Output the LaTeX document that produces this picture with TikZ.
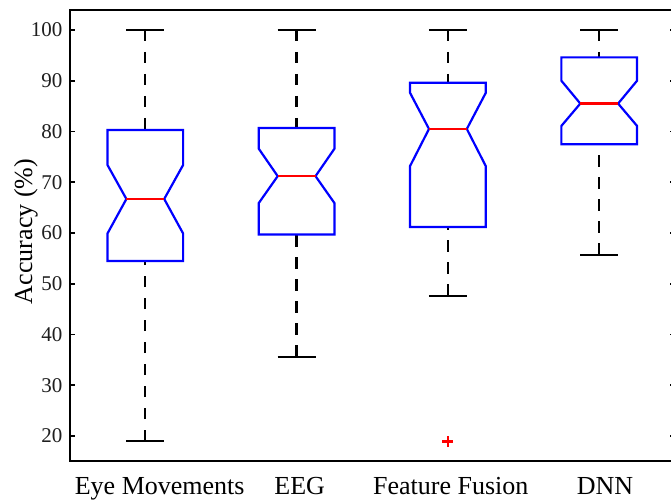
\documentclass[tikz,border=0pt]{standalone}
\usepackage{fontspec}
\setmainfont{Liberation Serif}
\definecolor{mblue}{RGB}{0,0,255}
\definecolor{mred}{RGB}{255,0,0}
\newcommand{\nbox}[8]{%
  \draw[whisk] (#1,#7) -- (#1,#2);
  \draw[whisk] (#1,#8) -- (#1,#6);
  \draw[capline] (#1-0.125,#7) -- (#1+0.125,#7);
  \draw[capline] (#1-0.125,#8) -- (#1+0.125,#8);
  \draw[boxline] (#1-0.25,#2) -- (#1-0.25,#3) -- (#1-0.125,#4) -- (#1-0.25,#5) -- (#1-0.25,#6) -- (#1+0.25,#6) -- (#1+0.25,#5) -- (#1+0.125,#4) -- (#1+0.25,#3) -- (#1+0.25,#2) -- cycle;
  \draw[medline] (#1-0.125,#4) -- (#1+0.125,#4);
}
\begin{document}
\begin{tikzpicture}[x=1bp,y=1bp,
  axisline/.style={line width=2bp, draw=black},
  tickline/.style={line width=1.6bp, draw=black},
  whisk/.style={line width=2.3bp, draw=black, dash pattern=on 11.5bp off 10.5bp},
  capline/.style={line width=2.3bp, draw=black},
  boxline/.style={line width=2.2bp, draw=mblue, line join=miter},
  medline/.style={line width=2.2bp, draw=mred},
  outl/.style={line width=2.8bp, draw=mred},
  ticklab/.style={font=\fontsize{21bp}{24bp}\selectfont, inner sep=0pt, text=black!88},
  xlab/.style={font=\fontsize{26bp}{30bp}\selectfont, inner sep=0pt, anchor=base},
]
\useasboundingbox (0,0) rectangle (671,500);
\fill[white] (0,0) rectangle (671,500);
\clip (0,0) rectangle (671,500);
\begin{scope}[shift={(-6bp,-37.5bp)}, x=151.3bp, y=5.075bp]
  % axes box
  \draw[axisline] (0.5,15) rectangle (4.5,104);
  \foreach \v in {20,30,...,100}{
    \draw[tickline] (0.5,\v) -- ++(5bp,0);
    \draw[tickline] (4.5,\v) -- ++(-5bp,0);
    \node[ticklab, anchor=east] (yt\v) at ([xshift=-7bp]0.5,\v) {\v};
  }
  % boxes: p, q3, notch top, median, notch bottom, q1, upper whisker, lower whisker
  \nbox{1}{80.3}{73.4}{66.7}{59.9}{54.5}{100}{19.0}
  \nbox{2}{80.7}{76.6}{71.2}{65.9}{59.7}{100}{35.6}
  \nbox{3}{89.6}{87.6}{80.5}{73.2}{61.2}{100}{47.6}
  \nbox{4}{94.6}{90.0}{85.5}{81.1}{77.5}{100}{55.7}
  % outlier
  \coordinate (o3) at (3,18.9);
  \draw[outl] ([xshift=-5.5bp]o3) -- ([xshift=5.5bp]o3);
  \draw[outl] ([yshift=-5.5bp]o3) -- ([yshift=5.5bp]o3);
\end{scope}
\node[xlab] (l1) at (159.7,5) {Eye Movements};
\node[xlab] (l2) at (299.7,5) {EEG};
\node[xlab] (l3) at (450.8,5) {Feature Fusion};
\node[xlab] (l4) at (605,5) {DNN};
\node[font=\fontsize{26bp}{30bp}\selectfont, inner sep=0pt, rotate=90, anchor=base] (ylab) at (32,268.5) {Accuracy (\%)};
\end{tikzpicture}
\end{document}
